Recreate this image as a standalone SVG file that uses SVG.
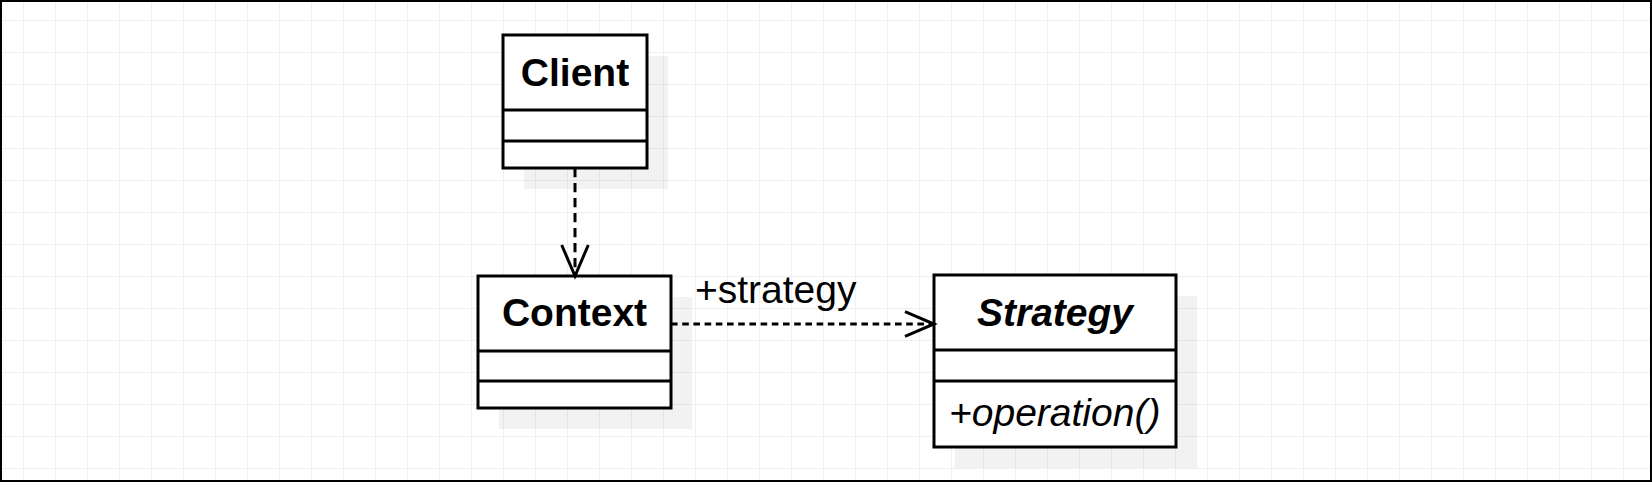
<svg xmlns="http://www.w3.org/2000/svg" width="1652" height="482" viewBox="0 0 1652 482">
<style>
.box{fill:#ffffff;stroke:#000000;stroke-width:3}
.div{stroke:#000000;stroke-width:3}
.shadow{fill:#000000;fill-opacity:0.05}
.title{font-family:"Liberation Sans",Arial,sans-serif;font-size:39px;font-weight:bold;fill:#000000;text-anchor:middle}
.it{font-style:italic}
.label{font-family:"Liberation Sans",Arial,sans-serif;font-size:39px;fill:#000000}
.edge{fill:none;stroke:#000000;stroke-width:3}
.head{fill:none;stroke:#000000;stroke-width:3;stroke-linejoin:miter}
</style>
<defs>
<pattern id="grid" patternUnits="userSpaceOnUse" x="23" y="20" width="32" height="32">
<path d="M0 0.5H32M0.5 0V32" fill="none" stroke="#f0f0f0" stroke-width="1"/>
</pattern>
</defs>
<rect x="0" y="0" width="1652" height="482" fill="#ffffff"/>
<rect x="0" y="0" width="1652" height="482" fill="url(#grid)"/>
<rect x="1" y="1" width="1650" height="480" fill="none" stroke="#000000" stroke-width="2"/>

<g id="client">
<rect class="shadow" x="524" y="56" width="144" height="133"/>
<rect class="box" x="503" y="35" width="144" height="133"/>
<line class="div" x1="503" y1="110" x2="647" y2="110"/>
<line class="div" x1="503" y1="141" x2="647" y2="141"/>
<text class="title" x="575" y="86">Client</text>
</g>

<g id="context">
<rect class="shadow" x="499" y="297" width="193" height="132"/>
<rect class="box" x="478" y="276" width="193" height="132"/>
<line class="div" x1="478" y1="351" x2="671" y2="351"/>
<line class="div" x1="478" y1="381" x2="671" y2="381"/>
<text class="title" x="574.5" y="326">Context</text>
</g>

<g id="strategy">
<rect class="shadow" x="955" y="296" width="242" height="172"/>
<rect class="box" x="934" y="275" width="242" height="172"/>
<line class="div" x1="934" y1="350" x2="1176" y2="350"/>
<line class="div" x1="934" y1="381" x2="1176" y2="381"/>
<text class="title it" x="1055" y="326">Strategy</text>
<text class="label it" x="949" y="425.5">+operation()</text>
</g>

<g id="connectors">
<line class="edge" x1="575" y1="168" x2="575" y2="274" stroke-dasharray="9.3 5.7"/>
<polyline class="head" points="561.7,245 575,276 588.3,245"/>
<line class="edge" x1="671" y1="324" x2="932" y2="324" stroke-dasharray="6.6 4.6"/>
<polyline class="head" points="905,311.7 934,324 905,336.3"/>
<text class="label" x="695" y="302.5">+strategy</text>
</g>
</svg>
